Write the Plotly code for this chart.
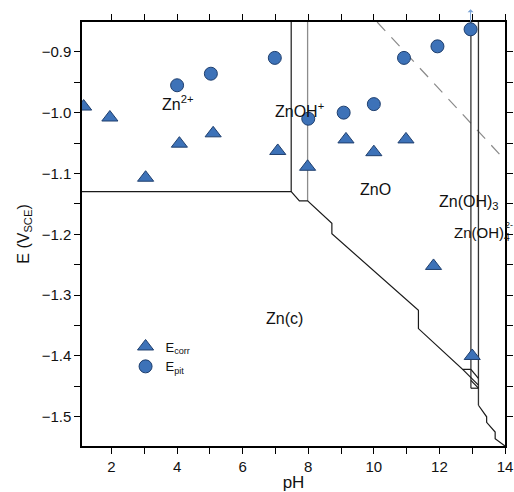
import plotly.graph_objects as go

# ---- data ----
corr_ph = [1.15, 1.95, 3.04, 4.07, 5.10, 7.07, 7.98, 9.15, 10.0, 10.98, 11.82, 13.0]
corr_E = [-0.990, -1.008, -1.107, -1.051, -1.034, -1.063, -1.089, -1.044, -1.065, -1.044, -1.252, -1.400]

pit_ph = [4.0, 5.03, 6.98, 8.0, 9.08, 10.0, 10.92, 11.94, 12.95]
pit_E = [-0.955, -0.936, -0.910, -1.010, -1.000, -0.986, -0.910, -0.891, -0.863]

# Pourbaix boundaries (None separates segments)
black_ph = [1.1, 7.48, 7.73, 7.98, 8.72, 8.72, 11.36, 11.36, 12.71, 12.96, None,
            7.48, 7.48, None,
            12.71, 13.19, None,
            12.96, 13.19, None,
            12.96, 13.19, None,
            12.96, 13.19, None,
            13.19, 13.44, 13.44, 13.70, 13.70, 13.95, 14.0]
black_E = [-1.13, -1.13, -1.145, -1.145, -1.182, -1.199, -1.325, -1.355, -1.422, -1.422, None,
           -1.13, -0.851, None,
           -1.422, -1.448, None,
           -1.422, -1.437, None,
           -1.440, -1.453, None,
           -1.453, -1.453, None,
           -1.481, -1.500, -1.509, -1.525, -1.536, -1.547, -1.548]

gray_ph = [7.98, 7.98]
gray_E = [-0.851, -1.145]

strip_ph = [12.96, 12.96, None, 13.19, 13.19]
strip_E = [-0.851, -1.453, None, -0.851, -1.481]

dash_ph = [10.1, 14.0]
dash_E = [-0.851, -1.078]

x_range = [1.1, 14.0]
y_range = [-1.548, -0.851]

labels = [
    ("Zn<sup>2+</sup>", 4.0, -0.984, "center", 16),
    ("ZnOH<sup>+</sup>", 7.73, -0.995, "center", 16),
    ("ZnO", 10.04, -1.127, "center", 16),
    ("Zn(c)", 7.27, -1.338, "center", 16),
    ("Zn(OH)<sub>3</sub>", 11.92, -1.147, "left", 16),
    ("Zn(OH)<sub>4</sub>", 12.39, -1.199, "left", 15),
]

fill = "#3d72b8"
edge = "#1f3f6e"
font = "Liberation Sans, Arial, sans-serif"

fig = go.Figure()
fig.add_trace(go.Scatter(x=dash_ph, y=dash_E, mode="lines", showlegend=False,
                         line=dict(color="#8a8a8a", width=1.2, dash="12px,9px"), hoverinfo="skip"))
fig.add_trace(go.Scatter(x=gray_ph, y=gray_E, mode="lines", showlegend=False,
                         line=dict(color="#8c8c8c", width=1.3), hoverinfo="skip"))
fig.add_trace(go.Scatter(x=strip_ph, y=strip_E, mode="lines", showlegend=False,
                         line=dict(color="#333333", width=1.3), hoverinfo="skip"))
fig.add_trace(go.Scatter(x=black_ph, y=black_E, mode="lines", showlegend=False,
                         line=dict(color="#1a1a1a", width=1.2), hoverinfo="skip"))
fig.add_trace(go.Scatter(x=corr_ph, y=corr_E, mode="markers", name="E<sub>corr</sub>",
                         marker=dict(symbol="triangle-up", size=14, color=fill,
                                     line=dict(color=edge, width=1))))
fig.add_trace(go.Scatter(x=pit_ph, y=pit_E, mode="markers", name="E<sub>pit</sub>",
                         marker=dict(symbol="circle", size=13, color=fill,
                                     line=dict(color=edge, width=1))))

for txt, xx, yy, anc, fs in labels:
    fig.add_annotation(x=xx, y=yy, text=txt, showarrow=False, xanchor=anc,
                       font=dict(size=fs, color="#111", family=font))
fig.add_annotation(x=13.93, y=-1.184, text="2-", showarrow=False, xanchor="left",
                   font=dict(size=9, color="#111", family=font))

# small arrow above last pit point
fig.add_annotation(x=pit_ph[-1], y=1.03, xref="x", yref="paper", ax=0, ay=14,
                   text="", showarrow=True, arrowhead=1, arrowsize=1, arrowwidth=1,
                   arrowcolor="#7aa3d6")

fig.update_layout(
    width=514, height=492,
    margin=dict(l=82, r=9, t=22, b=46),
    plot_bgcolor="white", paper_bgcolor="white",
    font=dict(family=font, size=15, color="#111"),
    showlegend=True,
    legend=dict(x=0.103, y=0.27, xanchor="left", yanchor="top",
                bgcolor="rgba(0,0,0,0)", font=dict(size=13), tracegroupgap=0),
    xaxis=dict(range=x_range, dtick=2, tick0=0, ticks="outside", ticklen=6, tickwidth=1.2,
               tickcolor="black",
               minor=dict(dtick=1, ticks="outside", ticklen=6, tickwidth=1.2, tickcolor="black"),
               showline=True, linewidth=1.5, linecolor="black", mirror="allticks",
               showgrid=False, zeroline=False, automargin=False,
               title=dict(text="pH", font=dict(size=17), standoff=4)),
    yaxis=dict(range=y_range, dtick=0.1, tick0=-0.9, ticks="outside", ticklen=6, tickwidth=1.2,
               tickcolor="black",
               minor=dict(dtick=0.05, ticks="outside", ticklen=6, tickwidth=1.2, tickcolor="black"),
               tickformat=".1f", automargin=False,
               showline=True, linewidth=1.5, linecolor="black", mirror="allticks",
               showgrid=False, zeroline=False,
               title=dict(text="E (V<sub>SCE</sub>)", font=dict(size=16), standoff=8)),
)

fig.write_html("out.html", post_script="document.body.style.margin='0';",
               config={"displayModeBar": False})
